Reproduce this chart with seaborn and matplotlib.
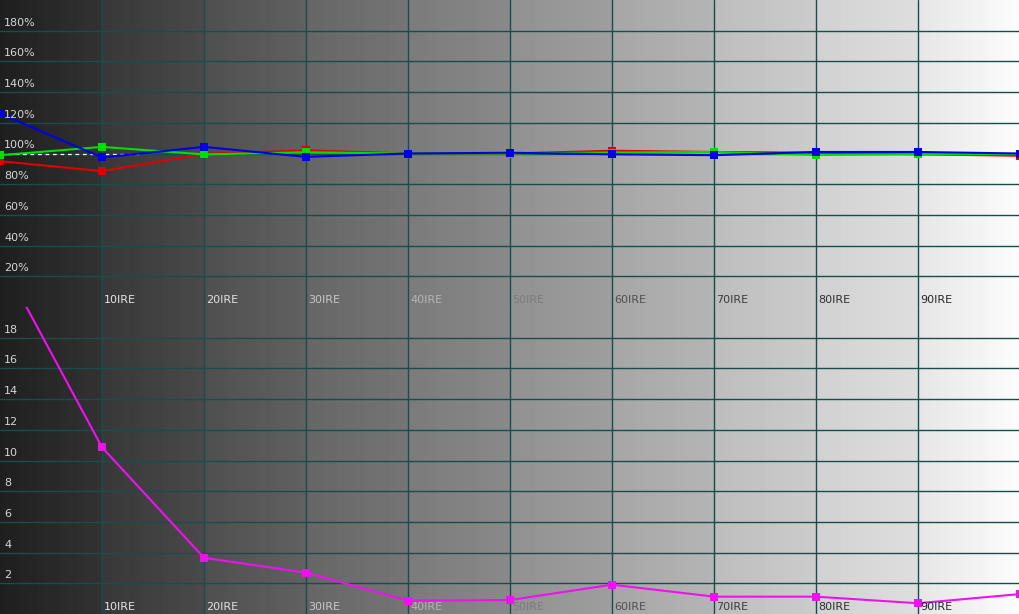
import numpy as np
import matplotlib
matplotlib.use("Agg")
import matplotlib.pyplot as plt
import seaborn as sns

sns.set_theme(style="white")
plt.rcParams['font.family'] = ['DejaVu Sans']

# ---- data ----
ire = [0, 10, 20, 30, 40, 50, 60, 70, 80, 90, 100]
red = [95.0, 88.5, 99.8, 102.0, 100.0, 100.0, 101.8, 101.0, 100.5, 99.5, 98.5]
green = [98.9, 104.3, 99.4, 100.8, 100.0, 100.0, 100.6, 101.0, 99.0, 99.5, 99.5]
blue = [126.0, 97.4, 104.3, 97.8, 100.0, 100.5, 99.5, 98.9, 101.0, 101.0, 100.0]
delta_e = [23.2, 10.86, 3.66, 2.69, 0.87, 0.91, 1.91, 1.13, 1.13, 0.70, 1.30]

top_ticks = [20, 40, 60, 80, 100, 120, 140, 160, 180]
top_tick_labels = [f"{t}%" for t in top_ticks]
bot_ticks = [2, 4, 6, 8, 10, 12, 14, 16, 18]
bot_tick_labels = [str(t) for t in bot_ticks]
x_ticks = [10, 20, 30, 40, 50, 60, 70, 80, 90]
x_tick_labels = [f"{t}IRE" for t in x_ticks]
x_label_colors = ['#e6e6e6', '#e0e0e0', '#c8c8c8', '#b4b4b4', '#7c7c7c',
                  '#505050', '#3c3c3c', '#303030', '#282828']

# background column levels (left, right) per 10 IRE column
col_left = [0.12, 0.22, 0.31, 0.40, 0.48, 0.57, 0.65, 0.74, 0.82, 0.90]
col_right = [0.20, 0.29, 0.38, 0.46, 0.54, 0.62, 0.71, 0.80, 0.87, 0.99]

fig = plt.figure(figsize=(10.2, 6.14), dpi=100)
ax_top = fig.add_axes([0, 0.5, 1, 0.5])
ax_bot = fig.add_axes([0, 0.0, 1, 0.5])

grid_color = '#1a4c4c'

# build gradient image
ncols = 1020
xs = np.linspace(0, 100, ncols, endpoint=False)
vals = np.zeros(ncols)
for i in range(ncols):
    c = min(int(xs[i] // 10), 9)
    f = (xs[i] - 10 * c) / 10.0
    vals[i] = col_left[c] + (col_right[c] - col_left[c]) * f
grad = np.tile(vals, (2, 1))

def setup(ax, ymax, yticks, ylabels):
    ax.imshow(grad, extent=[0, 100, 0, ymax], aspect='auto', cmap='gray',
              vmin=0, vmax=1, zorder=0, interpolation='nearest')
    ax.set_xlim(0, 100)
    ax.set_ylim(0, ymax)
    for t in x_ticks:
        ax.axvline(t, color=grid_color, lw=1.0, zorder=1)
    for t in yticks:
        ax.axhline(t, color=grid_color, lw=1.0, zorder=1)
    ax.set_xticks([])
    ax.set_yticks([])
    for s in ax.spines.values():
        s.set_visible(False)
    for t, lab in zip(yticks, ylabels):
        ax.annotate(lab, xy=(0, t), xytext=(4, 3), textcoords='offset pixels',
                    va='bottom', ha='left', fontsize=8, color='#d6d6d6', zorder=5)
    for t, lab, c in zip(x_ticks, x_tick_labels, x_label_colors):
        ax.annotate(lab, xy=(t, 0), xytext=(2, 4), textcoords='offset pixels',
                    va='baseline', ha='left', fontsize=8, color=c, zorder=5)

setup(ax_top, 200, top_ticks, top_tick_labels)
setup(ax_bot, 20, bot_ticks, bot_tick_labels)

# reference dashed line at 100%
ax_top.plot([0, 13.7], [100, 100], color='white', lw=0.9, ls=(0, (3, 3)), zorder=2)

lw = 1.5
ms = 5.3
sns.lineplot(x=ire, y=red, ax=ax_top, color='#e00000', lw=lw, marker='s',
             markersize=ms, markeredgewidth=0, zorder=3)
sns.lineplot(x=ire, y=green, ax=ax_top, color='#00e000', lw=lw, marker='s',
             markersize=ms, markeredgewidth=0, zorder=3)
sns.lineplot(x=ire, y=blue, ax=ax_top, color='#0000e6', lw=lw, marker='s',
             markersize=ms, markeredgewidth=0, zorder=4)

sns.lineplot(x=ire, y=delta_e, ax=ax_bot, color='#f010f0', lw=lw, marker='s',
             markersize=ms, markeredgewidth=0, zorder=3)

for ax in (ax_top, ax_bot):
    ax.set_xlim(0, 100)
    ax.set_xlabel('')
    ax.set_ylabel('')
    if ax.get_legend():
        ax.get_legend().remove()
ax_top.set_ylim(0, 200)
ax_bot.set_ylim(0, 20)

fig.savefig('out.png', dpi=100)
